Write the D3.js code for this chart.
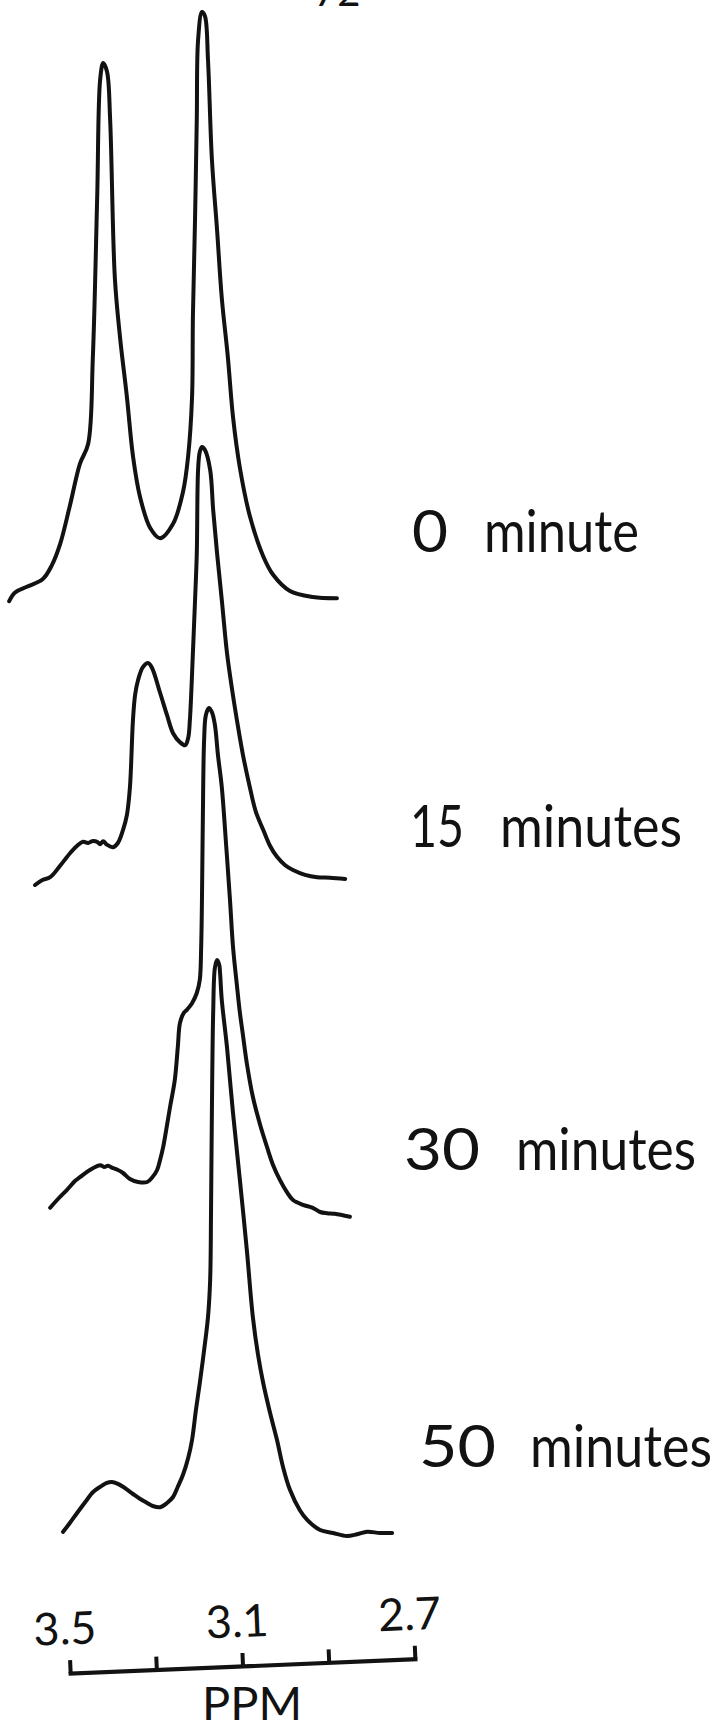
<!DOCTYPE html>
<html>
<head>
<meta charset="utf-8">
<script src="https://cdn.jsdelivr.net/npm/d3@7"></script>
<style>
  html, body { margin: 0; padding: 0; background: #fff; }
  svg { display: block; }
  text { font-variant-numeric: lining-nums; font-feature-settings: "lnum" 1, "onum" 0; }
</style>
</head>
<body>
<svg id="chart" width="719" height="1730"></svg>
<script>
// Proton NMR traces of the reaction mixture taken at successive times.
const times = [0, 15, 30, 50];
const timeUnits = ["minute", "minutes", "minutes", "minutes"];

// Each trace: chemical shift (ppm) of the sampled points and the signal height there.
const ppm0 = [3.641, 3.628, 3.600, 3.563, 3.542, 3.523, 3.500, 3.477, 3.458, 3.447, 3.437, 3.430, 3.423, 3.414, 3.407, 3.396, 3.384, 3.368, 3.354, 3.338, 3.314, 3.291, 3.261, 3.238, 3.226, 3.217, 3.215, 3.210, 3.206, 3.203, 3.194, 3.187, 3.180, 3.171, 3.159, 3.148, 3.134, 3.122, 3.106, 3.083, 3.052, 3.029, 2.990, 2.937, 2.881];
const int0 = [-0.2, 1.2, 2.2, 3.5, 5.8, 9.3, 15.8, 22.7, 26.0, 40.5, 67.0, 86.8, 89.5, 88.0, 80.2, 53.7, 43.8, 33.8, 24.0, 17.3, 12.0, 10.3, 12.7, 18.0, 24.0, 33.8, 47.2, 63.7, 80.2, 93.3, 98.0, 97.3, 90.0, 73.5, 61.7, 50.3, 40.5, 30.5, 22.0, 14.0, 7.3, 4.2, 1.5, 0.5, 0.3];

const ppm15 = [3.581, 3.565, 3.546, 3.523, 3.500, 3.484, 3.470, 3.458, 3.449, 3.437, 3.430, 3.423, 3.414, 3.400, 3.389, 3.377, 3.368, 3.361, 3.354, 3.349, 3.342, 3.331, 3.319, 3.310, 3.291, 3.275, 3.261, 3.245, 3.233, 3.226, 3.222, 3.215, 3.210, 3.206, 3.203, 3.199, 3.194, 3.187, 3.175, 3.168, 3.159, 3.148, 3.136, 3.124, 3.113, 3.099, 3.083, 3.069, 3.052, 3.036, 3.020, 3.001, 2.983, 2.955, 2.927, 2.897, 2.862];
const int15 = [-0.5, 0.3, 0.8, 2.7, 4.8, 6.0, 6.7, 6.5, 6.8, 6.7, 6.3, 6.8, 6.2, 5.8, 6.5, 8.7, 11.2, 15.8, 27.0, 31.2, 33.7, 35.8, 36.5, 35.7, 31.5, 27.8, 24.8, 23.3, 22.8, 24.0, 27.0, 38.2, 47.0, 54.8, 68.7, 71.7, 72.5, 72.0, 68.7, 62.0, 54.8, 47.0, 38.2, 32.0, 27.0, 21.2, 15.8, 11.7, 8.7, 6.0, 4.2, 2.8, 2.0, 1.2, 0.8, 0.7, 0.5];

const ppm30 = [3.546, 3.530, 3.507, 3.488, 3.477, 3.454, 3.430, 3.421, 3.412, 3.400, 3.389, 3.377, 3.361, 3.342, 3.321, 3.310, 3.298, 3.291, 3.284, 3.275, 3.268, 3.257, 3.250, 3.245, 3.236, 3.229, 3.217, 3.206, 3.199, 3.196, 3.194, 3.192, 3.189, 3.185, 3.178, 3.171, 3.164, 3.157, 3.148, 3.138, 3.129, 3.122, 3.113, 3.106, 3.099, 3.090, 3.076, 3.059, 3.043, 3.029, 3.013, 2.997, 2.983, 2.960, 2.937, 2.920, 2.904, 2.886, 2.851];
const int30 = [1.2, 2.5, 4.2, 5.7, 6.3, 7.5, 8.3, 8.0, 8.2, 7.8, 7.5, 7.0, 6.0, 5.5, 5.5, 6.2, 7.5, 9.2, 11.3, 15.0, 18.0, 22.5, 28.0, 32.0, 33.7, 34.2, 35.3, 37.0, 39.2, 44.2, 52.5, 65.8, 79.2, 83.3, 84.5, 83.8, 81.7, 76.7, 71.3, 61.7, 52.5, 44.7, 38.3, 33.7, 30.0, 25.3, 19.7, 15.0, 11.3, 8.3, 5.8, 3.8, 2.5, 1.7, 1.2, 0.5, 0.3, 0.2, -0.3];

const ppm50 = [3.516, 3.500, 3.484, 3.461, 3.447, 3.430, 3.416, 3.403, 3.389, 3.377, 3.354, 3.338, 3.321, 3.308, 3.291, 3.275, 3.261, 3.250, 3.238, 3.226, 3.217, 3.208, 3.199, 3.189, 3.180, 3.175, 3.173, 3.171, 3.168, 3.164, 3.159, 3.154, 3.152, 3.148, 3.136, 3.122, 3.106, 3.090, 3.076, 3.064, 3.052, 3.036, 3.020, 3.006, 2.990, 2.967, 2.950, 2.920, 2.890, 2.858, 2.834, 2.811, 2.781, 2.753];
const int50 = [0.2, 1.7, 3.3, 5.5, 6.8, 7.7, 8.3, 8.5, 8.2, 7.7, 6.5, 5.7, 5.0, 4.5, 4.3, 5.0, 6.0, 7.7, 9.7, 12.5, 15.5, 20.5, 25.0, 30.5, 36.0, 42.2, 53.3, 70.0, 86.7, 94.2, 95.5, 94.7, 93.3, 88.8, 81.0, 70.0, 58.8, 47.2, 36.0, 29.7, 25.0, 20.0, 15.5, 11.0, 7.2, 3.8, 2.2, 0.5, 0.0, -0.5, -0.2, 0.2, 0.0, 0.0];

// Shift axis
const tickValues = [3.5, 3.3, 3.1, 2.9, 2.7];
const tickLabels = ["3.5", "", "3.1", "", "2.7"];
const axisTitle = "PPM";
const pageNumber = "72";

// ---------- layout ----------
const svg = d3.select("#chart");
const INK = "#121212";
const FONT = "Lato, 'Open Sans', 'DejaVu Sans', sans-serif";

svg.append("rect").attr("width", 719).attr("height", 1730).attr("fill", "#fff");

const x = d3.scaleLinear().domain([3.5, 2.7]).range([70, 415]);
const y = d3.scaleLinear().domain([0, 100]).range([0, -600]);

// vertical position of each trace's baseline (stacked plot)
const baselines = [600, 882, 1215, 1533];

const traces = [
  d3.zip(ppm0, int0),
  d3.zip(ppm15, int15),
  d3.zip(ppm30, int30),
  d3.zip(ppm50, int50)
];

const line = d3.line()
  .x(d => x(d[0]))
  .y(d => y(d[1]))
  .curve(d3.curveCatmullRom.alpha(0.5));

svg.append("g").selectAll("path")
  .data(traces)
  .join("path")
  .attr("transform", (d, i) => `translate(0,${baselines[i]})`)
  .attr("d", line)
  .attr("fill", "none")
  .attr("stroke", INK)
  .attr("stroke-width", 4)
  .attr("stroke-linejoin", "round")
  .attr("stroke-linecap", "round");

// time labels: number and unit set apart, lettered narrow and tall
const labelLayout = [
  { numX: 412, numW: 36, wordX: 484, wordW: 155, base: 552 },
  { numX: 410, numW: 54, wordX: 500, wordW: 182, base: 847 },
  { numX: 404, numW: 76, wordX: 516, wordW: 180, base: 1170 },
  { numX: 419, numW: 77, wordX: 530, wordW: 182, base: 1467 }
];

const labels = svg.append("g")
  .attr("font-family", FONT)
  .attr("font-weight", 400)
  .attr("font-size", 58)
  .attr("fill", INK);

function fittedText(str, x0, base, width) {
  const t = labels.append("text").attr("x", 0).attr("y", 0).text(str);
  const natural = t.node().getComputedTextLength();
  const sx = natural > 0 ? width / natural : 1;
  t.attr("transform", `translate(${x0},${base}) scale(${sx},1)`);
}

times.forEach((t, i) => {
  const L = labelLayout[i];
  fittedText(String(t), L.numX, L.base, L.numW);
  fittedText(timeUnits[i], L.wordX, L.base, L.wordW);
});

// shift axis, ticks pointing up, numbers above
const labelFor = new Map(tickValues.map((v, i) => [v, tickLabels[i]]));
const axis = d3.axisTop(x)
  .tickValues(tickValues)
  .tickFormat(d => labelFor.get(d))
  .tickSize(13)
  .tickSizeOuter(0)
  .tickPadding(16);

const gAxis = svg.append("g")
  .attr("transform", "translate(0,1666) rotate(-2.4,242,0)")
  .call(axis);

gAxis.select(".domain")
  .attr("stroke", INK).attr("stroke-width", 4.2).attr("stroke-linecap", "square");
gAxis.selectAll(".tick line")
  .attr("stroke", INK).attr("stroke-width", 4);
gAxis.selectAll(".tick text")
  .attr("fill", INK)
  .attr("font-family", FONT)
  .attr("font-weight", 400)
  .attr("font-size", 45)
  .attr("dx", -4);

svg.append("text")
  .attr("x", 252).attr("y", 1720)
  .attr("text-anchor", "middle")
  .attr("font-family", FONT)
  .attr("font-weight", 400)
  .attr("font-size", 47)
  .attr("fill", INK)
  .text(axisTitle);

// page number, mostly cut off by the top edge
svg.append("text")
  .attr("x", 314).attr("y", 6)
  .attr("font-family", FONT)
  .attr("font-weight", 400)
  .attr("font-size", 40)
  .attr("fill", INK)
  .text(pageNumber);
</script>
</body>
</html>
